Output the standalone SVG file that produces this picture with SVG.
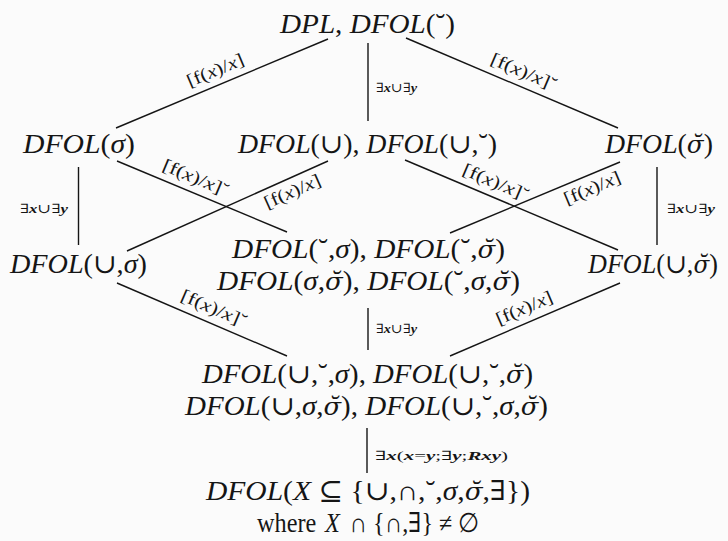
<svg xmlns="http://www.w3.org/2000/svg" width="728" height="541" viewBox="0 0 728 541">
<style>
.t{font-family:"Liberation Serif","DejaVu Serif",serif;font-size:27px;fill:#151515}
.i{font-style:italic}
.sb{font-family:"DejaVu Serif",serif;font-style:italic;font-size:24px}
.l{font-family:"Liberation Serif","DejaVu Serif",serif;font-size:18px;fill:#151515}
.s{font-family:"Liberation Serif","DejaVu Serif",serif;font-size:13px;fill:#151515}
.b{font-style:italic;font-weight:bold}
.e line{stroke:#151515;stroke-width:1.4}
</style>
<rect width="728" height="541" fill="#fbfbfb"/>
<g id="connectors" class="e">
  <line x1="328" y1="39" x2="116" y2="128"/>
  <line x1="368" y1="43" x2="368" y2="121"/>
  <line x1="406" y1="38" x2="618" y2="128"/>
  <line x1="78.5" y1="167" x2="78.5" y2="245"/>
  <line x1="117" y1="161" x2="287" y2="232"/>
  <line x1="127" y1="251" x2="328" y2="161"/>
  <line x1="405" y1="160" x2="618" y2="250"/>
  <line x1="450" y1="233" x2="620" y2="162"/>
  <line x1="657" y1="167" x2="657" y2="245"/>
  <line x1="117" y1="283" x2="287" y2="356"/>
  <line x1="368" y1="308" x2="368" y2="350"/>
  <line x1="450" y1="356" x2="620" y2="283"/>
  <line x1="367" y1="428" x2="367" y2="473"/>
  <text class="l" transform="translate(221,84) rotate(-22.8)" x="0" y="-9" text-anchor="middle" textLength="60" lengthAdjust="spacingAndGlyphs">[f(<tspan class="i">x</tspan>)/<tspan class="i">x</tspan>]</text>
  <text class="s" x="376" y="92" textLength="41" lengthAdjust="spacingAndGlyphs">∃<tspan class="b">x</tspan>∪∃<tspan class="b">y</tspan></text>
  <text class="l" transform="translate(518,85.5) rotate(23)" x="0" y="-9" text-anchor="middle" textLength="70" lengthAdjust="spacingAndGlyphs">[f(<tspan class="i">x</tspan>)/<tspan class="i">x</tspan>]˘</text>
  <text class="s" x="20" y="213" textLength="48" lengthAdjust="spacingAndGlyphs">∃<tspan class="b">x</tspan>∪∃<tspan class="b">y</tspan></text>
  <text class="l" transform="translate(190,191.5) rotate(22.7)" x="0" y="-9" text-anchor="middle" textLength="70" lengthAdjust="spacingAndGlyphs">[f(<tspan class="i">x</tspan>)/<tspan class="i">x</tspan>]˘</text>
  <text class="l" transform="translate(287,179.4) rotate(-24.1)" x="0" y="19" text-anchor="middle" textLength="60" lengthAdjust="spacingAndGlyphs">[f(<tspan class="i">x</tspan>)/<tspan class="i">x</tspan>]</text>
  <text class="l" transform="translate(490,196) rotate(22.9)" x="0" y="-9" text-anchor="middle" textLength="70" lengthAdjust="spacingAndGlyphs">[f(<tspan class="i">x</tspan>)/<tspan class="i">x</tspan>]˘</text>
  <text class="l" transform="translate(587,175.8) rotate(-22.7)" x="0" y="19" text-anchor="middle" textLength="60" lengthAdjust="spacingAndGlyphs">[f(<tspan class="i">x</tspan>)/<tspan class="i">x</tspan>]</text>
  <text class="s" x="667" y="213" textLength="48" lengthAdjust="spacingAndGlyphs">∃<tspan class="b">x</tspan>∪∃<tspan class="b">y</tspan></text>
  <text class="l" transform="translate(208,322) rotate(23.2)" x="0" y="-9" text-anchor="middle" textLength="70" lengthAdjust="spacingAndGlyphs">[f(<tspan class="i">x</tspan>)/<tspan class="i">x</tspan>]˘</text>
  <text class="s" x="376" y="333" textLength="41" lengthAdjust="spacingAndGlyphs">∃<tspan class="b">x</tspan>∪∃<tspan class="b">y</tspan></text>
  <text class="l" transform="translate(530,321.6) rotate(-23.2)" x="0" y="-9" text-anchor="middle" textLength="60" lengthAdjust="spacingAndGlyphs">[f(<tspan class="i">x</tspan>)/<tspan class="i">x</tspan>]</text>
  <text class="s" x="375" y="460" textLength="133" lengthAdjust="spacingAndGlyphs">∃<tspan class="b">x</tspan>(<tspan class="b">x</tspan>=<tspan class="b">y</tspan>;∃<tspan class="b">y</tspan>;<tspan class="b">Rxy</tspan>)</text>
</g>
<g id="n_top">
  <text class="t" x="280" y="33" textLength="175" lengthAdjust="spacingAndGlyphs"><tspan class="i">DPL</tspan>, <tspan class="i">DFOL</tspan>(˘)</text>
</g>
<g id="n_sigma">
  <text class="t" x="23" y="153" textLength="112" lengthAdjust="spacingAndGlyphs"><tspan class="i">DFOL</tspan>(<tspan class="i">σ</tspan>)</text>
</g>
<g id="n_union">
  <text class="t" x="238" y="153" textLength="259" lengthAdjust="spacingAndGlyphs"><tspan class="i">DFOL</tspan>(∪), <tspan class="i">DFOL</tspan>(∪,˘)</text>
</g>
<g id="n_sigmabreve">
  <text class="t" x="605" y="153" textLength="108" lengthAdjust="spacingAndGlyphs"><tspan class="i">DFOL</tspan>(<tspan class="sb">σ̆</tspan>)</text>
</g>
<g id="n_union_sigma">
  <text class="t" x="10" y="273" textLength="137" lengthAdjust="spacingAndGlyphs"><tspan class="i">DFOL</tspan>(∪,<tspan class="i">σ</tspan>)</text>
</g>
<g id="n_mid3">
  <text class="t" x="232" y="258" textLength="273" lengthAdjust="spacingAndGlyphs"><tspan class="i">DFOL</tspan>(˘,<tspan class="i">σ</tspan>), <tspan class="i">DFOL</tspan>(˘,<tspan class="sb">σ̆</tspan>)</text>
  <text class="t" x="217" y="290" textLength="303" lengthAdjust="spacingAndGlyphs"><tspan class="i">DFOL</tspan>(<tspan class="i">σ</tspan>,<tspan class="sb">σ̆</tspan>), <tspan class="i">DFOL</tspan>(˘,<tspan class="i">σ</tspan>,<tspan class="sb">σ̆</tspan>)</text>
</g>
<g id="n_union_sigmabreve">
  <text class="t" x="588" y="273" textLength="130" lengthAdjust="spacingAndGlyphs"><tspan class="i">DFOL</tspan>(∪,<tspan class="sb">σ̆</tspan>)</text>
</g>
<g id="n_row4">
  <text class="t" x="202" y="383" textLength="331" lengthAdjust="spacingAndGlyphs"><tspan class="i">DFOL</tspan>(∪,˘,<tspan class="i">σ</tspan>), <tspan class="i">DFOL</tspan>(∪,˘,<tspan class="sb">σ̆</tspan>)</text>
  <text class="t" x="185" y="415" textLength="363" lengthAdjust="spacingAndGlyphs"><tspan class="i">DFOL</tspan>(∪,<tspan class="i">σ</tspan>,<tspan class="sb">σ̆</tspan>), <tspan class="i">DFOL</tspan>(∪,˘,<tspan class="i">σ</tspan>,<tspan class="sb">σ̆</tspan>)</text>
</g>
<g id="n_bottom">
  <text class="t" x="206" y="500" textLength="324" lengthAdjust="spacingAndGlyphs"><tspan class="i">DFOL</tspan>(<tspan class="i">X</tspan> ⊆ {∪,∩,˘,<tspan class="i">σ</tspan>,<tspan class="sb">σ̆</tspan>,∃})</text>
  <text class="t" x="257" y="532" textLength="223" lengthAdjust="spacingAndGlyphs">where <tspan class="i" dx="3">X</tspan><tspan dx="4"> ∩ {∩,∃} ≠ ∅</tspan></text>
</g>
</svg>
